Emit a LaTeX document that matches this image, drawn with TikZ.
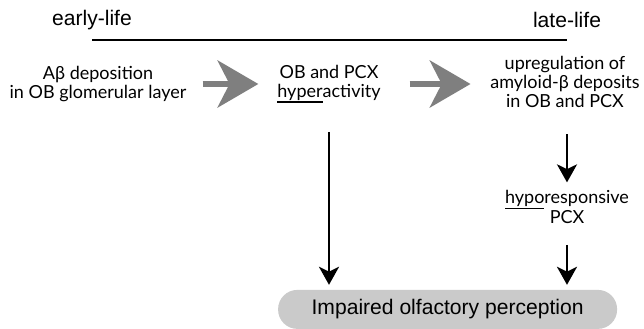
\documentclass[tikz,border=0pt]{standalone}
\usepackage{fontspec}
\newfontfamily\labfont{Liberation Sans}
\newfontfamily\txtfont{Lato}
\usepackage{tikz}
\usetikzlibrary{arrows.meta,positioning,calc}
\definecolor{arrgray}{HTML}{7F7F7F}
\definecolor{boxgray}{HTML}{CACACA}
\newcommand{\lowul}[1]{\setbox0\hbox{#1}\rlap{\rule[-4pt]{\wd0}{0.9pt}}\box0}

\begin{document}
\begin{tikzpicture}[lab/.style={font=\labfont\fontsize{15}{18}\selectfont,inner sep=0pt},
  txt/.style={font=\txtfont\fontsize{12.8}{13.2}\selectfont,align=center,inner sep=2pt},
  bigarr/.style={draw=arrgray,line width=0.13cm,-{Stealth[length=1.02cm,width=1.18cm,inset=0.3cm]}},
  arr/.style={draw=black,line width=0.065cm,-{Stealth[length=0.45cm,width=0.5cm,inset=0.12cm]}}]
 \useasboundingbox (0,0) rectangle (16.1,8.225);
 % time axis
 \node[lab] (early) at (2.3,7.725) {early-life};
 \node[lab] (late) at (14.175,7.725) {late-life};
 \coordinate (t0) at (2.3,7.225);
 \coordinate (t1) at (14.175,7.225);
 \draw[line width=0.055cm] (t0) -- (t1);
 % stages
 \node[txt] (dep) at (2.45,6.125) {Aβ deposition\\ in OB glomerular layer};
 \node[txt] (hyper) at (8.225,6.125) {OB and PCX\\ \lowul{hyper}activity};
 \node[txt] (upreg) at (14.125,6.175) {upregulation of\\ amyloid-β deposits\\ in OB and PCX};
 \node[txt] (hypo) at (14.175,3.05) {\lowul{hypo}responsive\\ PCX};
 \node[lab,fill=boxgray,rounded corners=0.48cm,minimum width=8.475cm,minimum height=0.975cm]
   (impair) at (11.19,0.49) {Impaired olfactory perception};
 % connectors
 \draw[bigarr,shorten <=0.33cm,shorten >=0.4cm] (dep.east) -- (dep.east -| hyper.west);
 \draw[bigarr,shorten <=0.65cm,shorten >=0.42cm] (hyper.east) -- (hyper.east -| upreg.west);
 \draw[arr,shorten <=0.65cm,shorten >=0.12cm] (hyper.south) -- (hyper.south |- impair.north);
 \draw[arr,shorten <=0.6cm,shorten >=0.12cm] (upreg.south -| hypo.north) -- (hypo.north);
 \draw[arr,shorten <=0.45cm,shorten >=0.12cm] (hypo.south) -- (hypo.south |- impair.north);
\end{tikzpicture}
\end{document}
